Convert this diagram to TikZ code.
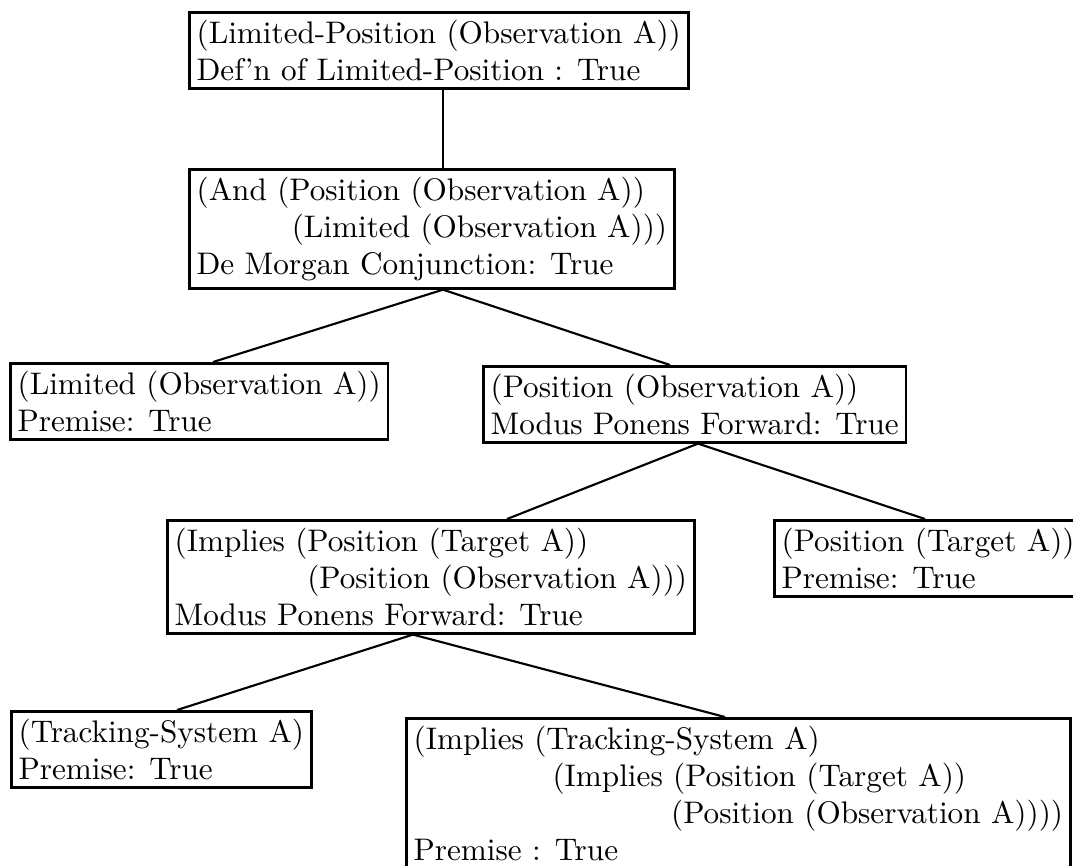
\documentclass[tikz,border=0pt]{standalone}
\usepackage{tikz}
\usetikzlibrary{calc}
\tikzset{
  proofbox/.style={draw=black, line width=0.9pt, anchor=north west, align=left, inner xsep=2.4pt, inner ysep=2.5pt, font=\fontsize{10.3pt}{12.2pt}\selectfont},
  link/.style={line width=0.7pt, draw=black}
}
\newcommand{\ind}[1]{\hspace*{#1em}}

\begin{document}
\begin{tikzpicture}[x=0.33pt, y=-0.33pt]
  \clip (0,0) rectangle (1073,865);

  \node[proofbox] (ldef) at (188,11) {(Limited-Position (Observation A))\\Def'n of Limited-Position : True};
  \node[proofbox] (conj) at (188,168) {(And (Position (Observation A))\\\ind{3.05}(Limited (Observation A)))\\De Morgan Conjunction: True};
  \node[proofbox] (limobs) at (9,362) {(Limited (Observation A))\\Premise: True};
  \node[proofbox] (posobs) at (482,365) {(Position (Observation A))\\Modus Ponens Forward: True};
  \node[proofbox] (impl) at (166,519) {(Implies (Position (Target A))\\\ind{4.25}(Position (Observation A)))\\Modus Ponens Forward: True};
  \node[proofbox] (postgt) at (773,519) {(Position (Target A))\\Premise: True};
  \node[proofbox] (track) at (10,710) {(Tracking-System A)\\Premise: True};
  \node[proofbox] (tsimp) at (405,717) {(Implies (Tracking-System A)\\\ind{4.45}(Implies (Position (Target A))\\\ind{8.25}(Position (Observation A))))\\Premise : True};

  \draw[link] ($(ldef.south west)+(255,0)$) -- ($(conj.north west)+(255,0)$);
  \draw[link] ($(conj.south west)+(255,0)$) -- ($(limobs.north west)+(204,0)$);
  \draw[link] ($(conj.south west)+(255,0)$) -- ($(posobs.north west)+(188,0)$);
  \draw[link] ($(posobs.south west)+(216,0)$) -- ($(impl.north west)+(341,0)$);
  \draw[link] ($(posobs.south west)+(216,0)$) -- ($(postgt.north west)+(152,0)$);
  \draw[link] ($(impl.south west)+(247,0)$) -- ($(track.north west)+(167,0)$);
  \draw[link] ($(impl.south west)+(247,0)$) -- ($(tsimp.north west)+(320,0)$);
\end{tikzpicture}
\end{document}
